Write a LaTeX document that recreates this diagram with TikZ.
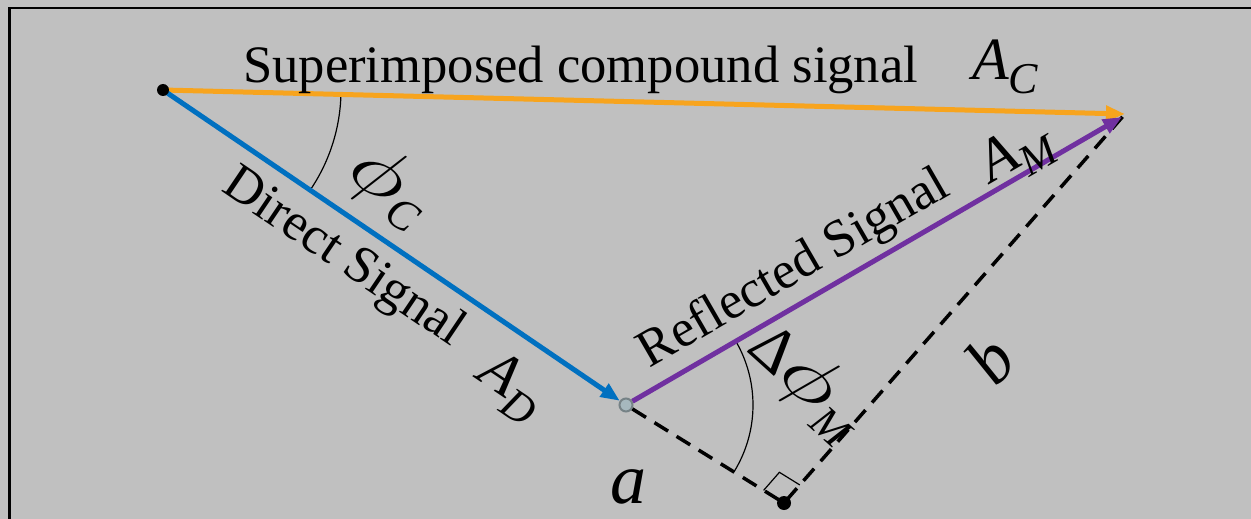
\RequirePackage{fix-cm}
\documentclass[tikz,border=0pt]{standalone}
\usepackage{fontspec}
\setmainfont{Liberation Serif}
\newfontfamily\tnr{Liberation Serif}
\usetikzlibrary{arrows.meta,calc,angles}

\definecolor{bg}{RGB}{192,192,192}
\definecolor{sigorange}{RGB}{247,164,30}
\definecolor{sigblue}{RGB}{0,112,192}
\definecolor{sigpurple}{RGB}{112,48,160}
\definecolor{ptfill}{RGB}{166,184,190}
\definecolor{ptedge}{RGB}{118,130,134}

\newcommand\bigtxt{\tnr\fontsize{52.6}{60}\selectfont}
\newcommand\subtxt[1]{\raisebox{-14pt}{\tnr\fontsize{44}{44}\selectfont\itshape #1}}
\newcommand\symA[2]{{\tnr\fontsize{60}{60}\selectfont\itshape #1}\subtxt{#2}}
\newcommand\symphi{\scalebox{1.3}[1]{\fontsize{74}{74}\selectfont$\phi$}}

\begin{document}
\begin{tikzpicture}[x=1pt,y=-1pt,
  sig/.style={line width=5pt,-{Triangle[length=19pt,width=15pt]}},
  helper/.style={line width=3.5pt,dash pattern=on 16pt off 10pt},
  anglearc/.style={draw,line width=1.2pt},
  lbl/.style={inner sep=0pt,font=\bigtxt},
  sym/.style={inner sep=0pt},
  dot/.style={circle,fill=black,inner sep=0pt,minimum size=12pt},
  refpt/.style={circle,fill=ptfill,draw=ptedge,line width=2pt,inner sep=0pt,minimum size=13pt}]
\useasboundingbox (0,0) rectangle (1251,519);
\fill[bg] (0,0) rectangle (1251,519);
\clip (0,0) rectangle (1251,519);
\draw[line width=2.8pt] (9.7,8) rectangle (1300,600);

\coordinate (O) at (163,90);
\coordinate (T) at (1125,114);
\coordinate (Tm) at (1122,117);
\coordinate (D) at (626,405);
\coordinate (F) at (784,503);

\node[refpt] (Dpt) at (D) {};

% helper lines
\draw[helper] (Dpt) -- (F) -- (T);
\coordinate (r1) at ($(F)!24pt!(D)$);
\coordinate (r2) at ($(F)!24pt!(T)$);
\coordinate (r3) at ($(r1)+(r2)-(F)$);
\draw[line width=1.2pt] (r1) -- (r3) -- (r2);

% angle arcs
\pic[anglearc, angle radius=178pt] {angle=D--O--T};
\pic[anglearc, angle radius=127pt] {angle=F--D--Tm};

% signals
\draw[sig,sigorange] (O) -- (T);
\draw[sig,sigblue] (O) -- (Dpt);
\draw[sig,sigpurple] (Dpt) -- (Tm);

\node[dot] (Odot) at (O) {};
\node[dot,minimum size=14pt] (Fdot) at (F) {};

% labels
\node[lbl,anchor=base west] (lsup) at (243,83) {Superimposed compound signal};
\node[sym,anchor=base west] (lAC) at (972,80) {\symA{A}{C}};
\node[lbl,anchor=base,rotate=-34] (ldir) at (336,269) {Direct Signal};
\node[sym,anchor=base west,rotate=-34] (lAD) at (475,378) {\symA{A}{D}};
\node[lbl,anchor=base,rotate=30] (lref) at (801,281) {Reflected Signal};
\node[sym,anchor=base west,rotate=30] (lAM) at (991,184) {\symA{A}{M}};
\node[sym,anchor=base west,rotate=-34] (lphiC) at (344,176) {\symphi\subtxt{C}};
\node[sym,anchor=base west,rotate=-42] (ldphi) at (745,350) {{\tnr\fontsize{64}{64}\selectfont Δ}\symphi\subtxt{M}};
\node[sym,rotate=49] (lb) at (990,360) {\tnr\fontsize{70}{70}\selectfont\itshape b};
\node[sym,anchor=base] (la) at (628,503) {\tnr\fontsize{72}{72}\selectfont\itshape a};
\end{tikzpicture}
\end{document}
